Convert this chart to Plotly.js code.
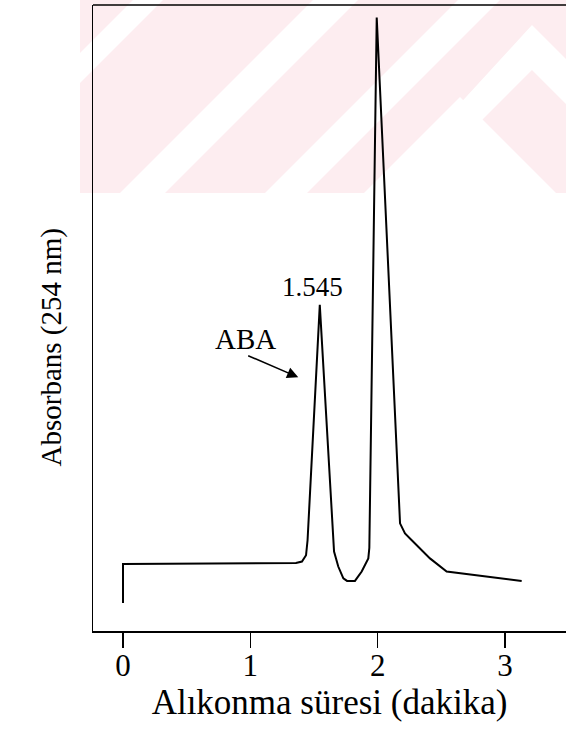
<!DOCTYPE html>
<html>
<head>
<meta charset="utf-8">
<script src="https://cdn.plot.ly/plotly-3.0.1.min.js"></script>
<style>
  html, body { margin: 0; padding: 0; background: #ffffff; }
  #chart { width: 566px; height: 739px; }
</style>
</head>
<body>
<div id="chart"></div>
<script>
// Retention time (min) and absorbance (arbitrary units, 254 nm)
const retentionTime = [0, 0, 1.358, 1.405, 1.437, 1.449, 1.545, 1.651, 1.657, 1.690, 1.730, 1.759, 1.821, 1.874, 1.926, 1.934, 1.992, 2.175, 2.214, 2.267, 2.410, 2.541, 2.803, 3.130];
const absorbance    = [4.47, 10.70, 10.86, 11.1, 12.1, 14.5, 52.1, 16.1, 12.7, 10.3, 8.4, 8.0, 8.0, 9.5, 11.6, 13.3, 98.0, 17.2, 15.6, 14.5, 11.6, 9.5, 8.8, 8.0];

const xTickValues = [0, 1, 2, 3];
const xTickLabels = ['0', '1', '2', '3'];

const peakLabel = '1.545';
const compoundLabel = 'ABA';
const xTitle = 'Alıkonma süresi (dakika)';
const yTitle = 'Absorbans (254 nm)';

const serif = 'Liberation Serif, Times New Roman, serif';

// Faint background watermark (decoration), given in page pixels, converted to paper coords
const L = 93, R = 566, T = 5, B = 631;
function px2paper(pts) {
  return 'M' + pts.map(p => ((p[0] - L) / (R - L)).toFixed(4) + ',' + ((B - p[1]) / (B - T)).toFixed(4)).join(' L') + ' Z';
}
const pink = '#fdedf0';
const wm = [
  {poly: [[80,0],[566,0],[566,193],[80,193]], col: pink},
  {poly: [[80,53],[133,0],[163,0],[80,83]], col: '#ffffff'},
  {poly: [[120,193],[313,0],[358,0],[165,193]], col: '#ffffff'},
  {poly: [[265,193],[458,0],[500,0],[307,193]], col: '#ffffff'},
  {poly: [[532,25],[566,59],[566,104],[532,70],[410,192],[390,180]], col: '#ffffff'},
  {poly: [[460,97],[556,193],[364,193]], col: '#ffffff'}
];
const shapes = wm.map(w => ({
  type: 'path', xref: 'paper', yref: 'paper', path: px2paper(w.poly),
  fillcolor: w.col, line: {width: 0}, layer: 'below'
}));
// top frame line
shapes.push({type: 'line', xref: 'paper', yref: 'paper', x0: 0, x1: 1, y0: 1, y1: 1,
  line: {color: '#000', width: 1.5}});

const trace = {
  x: retentionTime, y: absorbance, type: 'scatter', mode: 'lines',
  line: {color: '#000000', width: 2}, hoverinfo: 'skip'
};

const layout = {
  width: 566, height: 739,
  margin: {l: 93, r: 0, t: 5, b: 108},
  paper_bgcolor: 'rgba(0,0,0,0)', plot_bgcolor: 'rgba(0,0,0,0)',
  showlegend: false,
  font: {family: serif, color: '#000'},
  xaxis: {
    range: [-0.2355, 3.478], tickvals: xTickValues, ticktext: xTickLabels,
    ticks: 'outside', ticklen: 15, tickwidth: 1.5, tickcolor: '#000',
    ticklabelstandoff: -9,
    showline: true, linecolor: '#000', linewidth: 1.5, showgrid: false, zeroline: false,
    tickfont: {family: serif, size: 31, color: '#000'},
    title: {text: xTitle, font: {family: serif, size: 35, color: '#000'}, standoff: 6}
  },
  yaxis: {
    range: [0, 100], showticklabels: false, ticks: '',
    showline: true, linecolor: '#000', linewidth: 1.5, showgrid: false, zeroline: false
  },
  shapes: shapes,
  annotations: [
    {x: 1.488, y: 54.95, xref: 'x', yref: 'y', text: peakLabel, showarrow: false,
      font: {family: serif, size: 27, color: '#000'}},
    {x: 0.962, y: 46.65, xref: 'x', yref: 'y', text: compoundLabel, showarrow: false,
      font: {family: serif, size: 29, color: '#000'}},
    {x: 1.376, y: 40.53, xref: 'x', yref: 'y', ax: 0.971, ay: 44.09, axref: 'x', ayref: 'y',
      text: '', showarrow: true, arrowhead: 2, arrowsize: 1.4, arrowwidth: 1.6, arrowcolor: '#000'},
    {xref: 'paper', yref: 'paper', x: (32 - L) / (R - L), y: (B - 348) / (B - T),
      text: yTitle, textangle: -90, showarrow: false,
      font: {family: serif, size: 29, color: '#000'}}
  ]
};

Plotly.newPlot('chart', [trace], layout, {displayModeBar: false, staticPlot: true});
</script>
</body>
</html>
